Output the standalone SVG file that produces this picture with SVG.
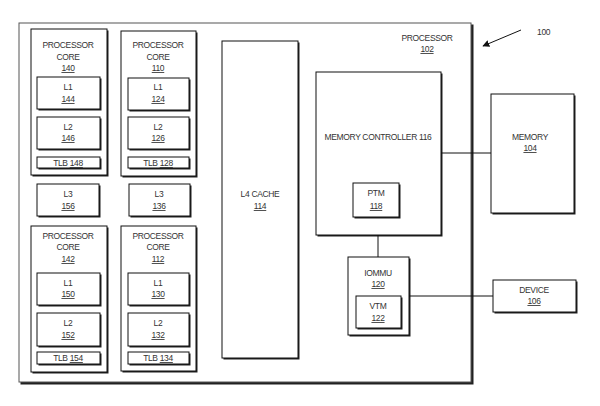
<svg xmlns="http://www.w3.org/2000/svg" width="600" height="406" viewBox="0 0 600 406">
<defs>
<style>
.b{fill:#fff;stroke:#111;stroke-width:1}
.s{fill:#222}
text{font-family:"Liberation Sans",Arial,sans-serif;font-size:8.5px;letter-spacing:-0.35px;fill:#333;text-anchor:middle}
.u{text-decoration:underline}
.c{fill:none;stroke:#111;stroke-width:1}
</style>
<marker id="ah" viewBox="0 0 10 10" refX="9" refY="5" markerWidth="7" markerHeight="7" orient="auto" markerUnits="userSpaceOnUse"><path d="M0,0 L10,5 L0,10 z" fill="#111"/></marker>
</defs>
<rect width="600" height="406" fill="#fff"/>
<g id="processor">
<rect class="s" x="20.5" y="24.5" width="453" height="360"/>
<rect x="19" y="23" width="452" height="359" fill="#fff" stroke="#555" stroke-width="1"/>
<text x="427" y="41">PROCESSOR</text>
<text x="427" y="52" class="u">102</text>
</g>
<g id="core140">
<rect class="s" x="32.5" y="30.5" width="76" height="146"/>
<rect class="b" x="31" y="29" width="76" height="146"/>
<text x="68" y="48">PROCESSOR</text><text x="68" y="60">CORE</text><text x="68" y="71" class="u">140</text>
</g>
<g id="l1_144"><rect class="s" x="38.5" y="78.5" width="63" height="32"/><rect class="b" x="37" y="77" width="63" height="32"/><text x="68" y="90">L1</text><text x="68" y="102" class="u">144</text></g>
<g id="l2_146"><rect class="s" x="38.5" y="118.5" width="63" height="32"/><rect class="b" x="37" y="117" width="63" height="32"/><text x="68" y="130">L2</text><text x="68" y="141" class="u">146</text></g>
<g id="tlb148"><rect class="s" x="38.5" y="158.5" width="63" height="11"/><rect class="b" x="37" y="157" width="63" height="11"/><text x="68" y="166">TLB <tspan class="u">148</tspan></text></g>
<g id="core110">
<rect class="s" x="122.5" y="32.5" width="75" height="145"/>
<rect class="b" x="121" y="31" width="75" height="145"/>
<text x="158" y="48">PROCESSOR</text><text x="158" y="60">CORE</text><text x="158" y="71" class="u">110</text>
</g>
<g id="l1_124"><rect class="s" x="129.5" y="79.5" width="61" height="32"/><rect class="b" x="128" y="78" width="61" height="32"/><text x="158" y="90">L1</text><text x="158" y="102" class="u">124</text></g>
<g id="l2_126"><rect class="s" x="129.5" y="118.5" width="61" height="32"/><rect class="b" x="128" y="117" width="61" height="32"/><text x="158" y="130">L2</text><text x="158" y="141" class="u">126</text></g>
<g id="tlb128"><rect class="s" x="129.5" y="158.5" width="61" height="11"/><rect class="b" x="128" y="157" width="61" height="11"/><text x="158" y="166">TLB <tspan class="u">128</tspan></text></g>
<g id="l3_156"><rect class="s" x="38.5" y="185.5" width="62" height="32"/><rect class="b" x="37" y="184" width="62" height="32"/><text x="68" y="197">L3</text><text x="68" y="209" class="u">156</text></g>
<g id="l3_136"><rect class="s" x="130.5" y="185.5" width="61" height="32"/><rect class="b" x="129" y="184" width="61" height="32"/><text x="159" y="197">L3</text><text x="159" y="209" class="u">136</text></g>
<g id="core142">
<rect class="s" x="32.5" y="227.5" width="76" height="146"/>
<rect class="b" x="31" y="226" width="76" height="146"/>
<text x="68" y="239">PROCESSOR</text><text x="68" y="250">CORE</text><text x="68" y="262" class="u">142</text>
</g>
<g id="l1_150"><rect class="s" x="38.5" y="274.5" width="63" height="32"/><rect class="b" x="37" y="273" width="63" height="32"/><text x="68" y="286">L1</text><text x="68" y="297" class="u">150</text></g>
<g id="l2_152"><rect class="s" x="38.5" y="314.5" width="63" height="33"/><rect class="b" x="37" y="313" width="63" height="33"/><text x="68" y="326">L2</text><text x="68" y="338" class="u">152</text></g>
<g id="tlb154"><rect class="s" x="38.5" y="353.5" width="63" height="12"/><rect class="b" x="37" y="352" width="63" height="12"/><text x="68" y="361">TLB <tspan class="u">154</tspan></text></g>
<g id="core112">
<rect class="s" x="122.5" y="227.5" width="75" height="145"/>
<rect class="b" x="121" y="226" width="75" height="145"/>
<text x="158" y="239">PROCESSOR</text><text x="158" y="250">CORE</text><text x="158" y="262" class="u">112</text>
</g>
<g id="l1_130"><rect class="s" x="129.5" y="274.5" width="61" height="32"/><rect class="b" x="128" y="273" width="61" height="32"/><text x="158" y="286">L1</text><text x="158" y="297" class="u">130</text></g>
<g id="l2_132"><rect class="s" x="129.5" y="314.5" width="61" height="33"/><rect class="b" x="128" y="313" width="61" height="33"/><text x="158" y="326">L2</text><text x="158" y="338" class="u">132</text></g>
<g id="tlb134"><rect class="s" x="129.5" y="353.5" width="61" height="12"/><rect class="b" x="128" y="352" width="61" height="12"/><text x="158" y="361">TLB <tspan class="u">134</tspan></text></g>
<g id="l4cache"><rect class="s" x="223.5" y="42.5" width="76" height="317"/><rect class="b" x="222" y="41" width="76" height="317"/><text x="260" y="197">L4 CACHE</text><text x="260" y="209" class="u">114</text></g>
<g id="memctrl"><rect class="s" x="317.5" y="73.5" width="125" height="163"/><rect class="b" x="316" y="72" width="125" height="163"/><text x="378" y="140">MEMORY CONTROLLER 116</text></g>
<g id="ptm"><rect class="s" x="354.5" y="184.5" width="46" height="34"/><rect class="b" x="353" y="183" width="46" height="34"/><text x="376" y="196">PTM</text><text x="376" y="209" class="u">118</text></g>
<g id="iommu"><rect class="s" x="349.5" y="258.5" width="61" height="78"/><rect class="b" x="348" y="257" width="61" height="78"/><text x="378" y="276">IOMMU</text><text x="378" y="287" class="u">120</text></g>
<g id="vtm"><rect class="s" x="357.5" y="297.5" width="45" height="32"/><rect class="b" x="356" y="296" width="45" height="32"/><text x="378" y="309">VTM</text><text x="378" y="321" class="u">122</text></g>
<g id="memory"><rect class="s" x="492.5" y="95.5" width="83" height="119"/><rect class="b" x="491" y="94" width="83" height="119"/><text x="530" y="140">MEMORY</text><text x="530" y="151" class="u">104</text></g>
<g id="device"><rect class="s" x="494.5" y="281.5" width="83" height="32"/><rect class="b" x="493" y="280" width="83" height="32"/><text x="534" y="293">DEVICE</text><text x="534" y="304" class="u">106</text></g>
<g id="connectors">
<line class="c" x1="441" y1="153" x2="491" y2="153"/>
<line class="c" x1="378" y1="235" x2="378" y2="257"/>
<line class="c" x1="409" y1="296" x2="493" y2="296"/>
<line class="c" x1="521" y1="30" x2="483" y2="46" stroke-width="1.5" marker-end="url(#ah)"/>
</g>
<text x="537" y="35" style="text-anchor:start">100</text>
</svg>
